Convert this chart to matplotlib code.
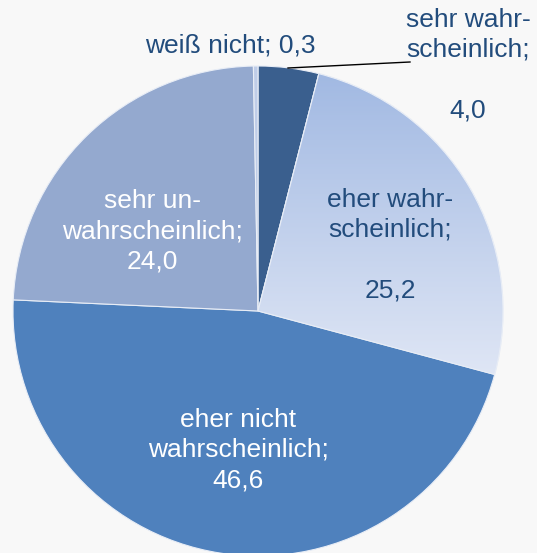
import numpy as np
import matplotlib
matplotlib.use("Agg")
import matplotlib.pyplot as plt
from matplotlib.colors import LinearSegmentedColormap

labels = ["sehr wahr-\nscheinlich;\n\n4,0", "eher wahr-\nscheinlich;\n\n25,2",
          "eher nicht\nwahrscheinlich;\n46,6", "sehr un-\nwahrscheinlich;\n24,0",
          "weiß nicht; 0,3"]
values = [4.0, 25.2, 46.6, 24.0, 0.3]
colors = ["#3A5F8E", "#A3BAE3", "#4F81BD", "#94A9CF", "#BFCDE8"]
text_colors = ["#224C7C", "#224C7C", "white", "white", "#224C7C"]

W, H = 537, 553
fig = plt.figure(figsize=(W / 100, H / 100), dpi=100)
fig.patch.set_facecolor("#F8F8F8")
ax = fig.add_axes([0, 0, 1, 1])

cx, cy, r = 258, H - 311, 245
wedges, _ = ax.pie(values, colors=colors, startangle=90, counterclock=False,
                   center=(cx, cy), radius=r, frame=True,
                   wedgeprops=dict(edgecolor="#E8EDF6", linewidth=0.8))
ax.set_xlim(0, W)
ax.set_ylim(0, H)
ax.set_aspect("equal")
ax.axis("off")

# gradient for "eher wahrscheinlich"
cmap = LinearSegmentedColormap.from_list("g", ["#A0B8E2", "#DFE6F5"])
grad = np.linspace(0, 1, 256).reshape(-1, 1)
im = ax.imshow(grad, cmap=cmap, aspect="auto",
               extent=(cx, cx + r, H - 375, H - 66), origin="upper", zorder=1.5)
im.set_clip_path(wedges[1])
w2 = plt.matplotlib.patches.Wedge((cx, cy), r, wedges[1].theta1, wedges[1].theta2,
                                  facecolor="none", edgecolor="#E8EDF6", lw=0.8, zorder=2)
ax.add_patch(w2)

font = dict(family=["Liberation Sans", "DejaVu Sans"], fontsize=19, ha="center",
            va="center", linespacing=1.33)
positions = [(468, 65), (390, 245), (238, 450), (152, 231), (230, 45)]
for lab, (px, py), tc in zip(labels, positions, text_colors):
    ax.text(px, H - py, lab, color=tc, zorder=5, **font)

ax.plot([288, 410], [H - 68, H - 62], color="black", lw=1.0, zorder=4)

fig.savefig("out.png", dpi=100, facecolor=fig.get_facecolor())
